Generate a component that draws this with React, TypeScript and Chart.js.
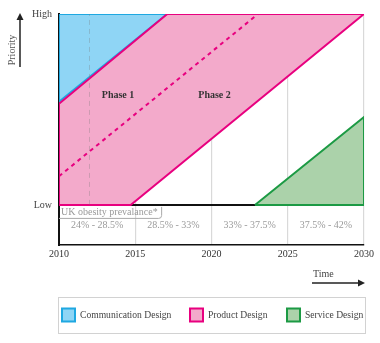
import React, { useEffect, useRef } from "react";
import { Chart, registerables } from "chart.js";

Chart.register(...registerables);

// ---- data ----
const xTicks = [2010, 2015, 2020, 2025, 2030];
const yTickLabels = ["Low", "High"]; // values 0 and 1

const commX = [2010, 2010, 2017.1, 2010];
const commY = [1, 0.54, 1, 1];

const prodX = [2010, 2017.1, 2030, 2014.7, 2010, 2010];
const prodY = [0.53, 1, 1, 0, 0, 0.53];

const prodDashX = [2010, 2023.05];
const prodDashY = [0.15, 1];

const servX = [2022.85, 2030, 2030, 2022.85];
const servY = [0, 0, 0.46, 0];

const lowLineX = [2010, 2030];
const lowLineY = [0, 0];

const markerX = [2012, 2012];
const markerY = [0, 1];

const rangeLabels = ["24% - 28.5%", "28.5% - 33%", "33% - 37.5%", "37.5% - 42%"];
const rangeCenters = [2012.5, 2017.5, 2022.5, 2027.5];
const rangeY = -0.105;

const phaseLabels = ["Phase 1", "Phase 2"];
const phaseX = [2013.87, 2020.2];
const phaseY = [0.576, 0.576];

const legendNames = ["Communication Design", "Product Design", "Service Design"];

const FONT = "'Liberation Serif', serif";
const blueFill = "#8fd5f5";
const blueLine = "#1fa8e1";
const pinkFill = "#f3aacb";
const pinkLine = "#e8007f";
const greenFill = "#abd2aa";
const greenLine = "#1c9a44";

const pts = (xs: number[], ys: number[]) => xs.map((x, i) => ({ x, y: ys[i] }));

const overlayPlugin = {
  id: "overlay",
  afterDraw(chart: any) {
    const ctx = chart.ctx as CanvasRenderingContext2D;
    const xs = chart.scales.x;
    const ys = chart.scales.y;
    const area = chart.chartArea;
    ctx.save();

    // phase labels
    ctx.font = `bold 10px ${FONT}`;
    ctx.fillStyle = "#333";
    ctx.textAlign = "center";
    ctx.textBaseline = "middle";
    phaseLabels.forEach((t, i) => {
      ctx.fillText(t, xs.getPixelForValue(phaseX[i]), ys.getPixelForValue(phaseY[i]));
    });

    // range labels
    ctx.font = `10px ${FONT}`;
    ctx.fillStyle = "#9a9a9a";
    rangeLabels.forEach((t, i) => {
      ctx.fillText(t, xs.getPixelForValue(rangeCenters[i]), ys.getPixelForValue(rangeY));
    });

    // UK obesity label with rounded box
    const lx = xs.getPixelForValue(2010);
    const ly = ys.getPixelForValue(0);
    ctx.textAlign = "left";
    ctx.font = `10px ${FONT}`;
    ctx.fillStyle = "#999";
    const label = "UK obesity prevalance*";
    ctx.fillText(label, lx + 2, ly + 7);
    const w = ctx.measureText(label).width + 6;
    ctx.strokeStyle = "#aaa";
    ctx.lineWidth = 1;
    ctx.beginPath();
    ctx.moveTo(lx, ly + 13.5);
    ctx.lineTo(lx + w - 3, ly + 13.5);
    ctx.quadraticCurveTo(lx + w, ly + 13.5, lx + w, ly + 10.5);
    ctx.lineTo(lx + w, ly + 2);
    ctx.stroke();

    // Priority arrow
    const ax = 20;
    ctx.strokeStyle = "#222";
    ctx.fillStyle = "#222";
    ctx.lineWidth = 1.5;
    ctx.beginPath();
    ctx.moveTo(ax, area.top + 53);
    ctx.lineTo(ax, area.top + 4);
    ctx.stroke();
    ctx.beginPath();
    ctx.moveTo(ax, area.top - 1);
    ctx.lineTo(ax - 3.5, area.top + 6);
    ctx.lineTo(ax + 3.5, area.top + 6);
    ctx.closePath();
    ctx.fill();
    ctx.save();
    ctx.translate(12, area.top + 36);
    ctx.rotate(-Math.PI / 2);
    ctx.font = `10px ${FONT}`;
    ctx.fillStyle = "#555";
    ctx.textAlign = "center";
    ctx.textBaseline = "middle";
    ctx.fillText("Priority", 0, 0);
    ctx.restore();

    // Time arrow
    const ty = area.bottom + 38;
    ctx.beginPath();
    ctx.moveTo(area.right - 52, ty);
    ctx.lineTo(area.right - 4, ty);
    ctx.stroke();
    ctx.beginPath();
    ctx.moveTo(area.right + 1, ty);
    ctx.lineTo(area.right - 6, ty - 3.5);
    ctx.lineTo(area.right - 6, ty + 3.5);
    ctx.closePath();
    ctx.fill();
    ctx.font = `10px ${FONT}`;
    ctx.fillStyle = "#444";
    ctx.textAlign = "left";
    ctx.textBaseline = "middle";
    ctx.fillText("Time", area.right - 51, ty - 9);

    // Legend
    const bx = area.left - 1;
    const by = area.bottom + 52.5;
    const bw = area.right - area.left + 2;
    const bh = 36;
    ctx.strokeStyle = "#d2d2d2";
    ctx.lineWidth = 1;
    ctx.strokeRect(bx + 0.5, by, bw, bh);
    const fills = [blueFill, pinkFill, greenFill];
    const lines = [blueLine, pinkLine, greenLine];
    const itemX = [area.left + 3, area.left + 131, area.left + 228];
    legendNames.forEach((n, i) => {
      const sx = itemX[i];
      const sy = by + 11;
      ctx.fillStyle = fills[i];
      ctx.fillRect(sx, sy, 13, 13);
      ctx.strokeStyle = lines[i];
      ctx.lineWidth = 2;
      ctx.strokeRect(sx, sy, 13, 13);
      ctx.fillStyle = "#444";
      ctx.font = `9.6px ${FONT}`;
      ctx.textAlign = "left";
      ctx.textBaseline = "middle";
      ctx.fillText(n, sx + 18, sy + 7);
    });

    ctx.restore();
  },
};

export default function App() {
  const ref = useRef<HTMLCanvasElement | null>(null);

  useEffect(() => {
    if (!ref.current) return;
    const chart = new Chart(ref.current, {
      type: "scatter",
      data: {
        datasets: [
          {
            label: "marker",
            data: pts(markerX, markerY),
            showLine: true,
            borderColor: "rgba(120,120,120,0.3)",
            borderWidth: 1,
            borderDash: [5, 4],
            pointRadius: 0,
            fill: false,
            order: 0,
          },
          {
            label: "prodDash",
            data: pts(prodDashX, prodDashY),
            showLine: true,
            borderColor: pinkLine,
            borderWidth: 2,
            borderDash: [4, 4],
            pointRadius: 0,
            fill: false,
            order: 1,
          },
          {
            label: "Communication Design",
            data: pts(commX, commY),
            showLine: true,
            borderColor: blueLine,
            backgroundColor: blueFill,
            borderWidth: 2,
            pointRadius: 0,
            fill: "shape",
            order: 3,
          },
          {
            label: "Product Design",
            data: pts(prodX, prodY),
            showLine: true,
            borderColor: pinkLine,
            backgroundColor: pinkFill,
            borderWidth: 2,
            pointRadius: 0,
            fill: "shape",
            order: 2,
          },
          {
            label: "Service Design",
            data: pts(servX, servY),
            showLine: true,
            borderColor: greenLine,
            backgroundColor: greenFill,
            borderWidth: 2,
            pointRadius: 0,
            fill: "shape",
            order: 4,
          },
          {
            label: "low",
            data: pts(lowLineX, lowLineY),
            showLine: true,
            borderColor: "#111",
            borderWidth: 2,
            pointRadius: 0,
            fill: false,
            order: 5,
          },
        ],
      },
      options: {
        animation: false,
        responsive: true,
        maintainAspectRatio: false,
        layout: { padding: { top: 14, right: 16, left: 0, bottom: 0 } },
        plugins: {
          legend: { display: false },
          tooltip: { enabled: false },
        },
        scales: {
          x: {
            type: "linear",
            min: 2010,
            max: 2030,
            z: 1,
            afterBuildTicks: (s: any) => {
              s.ticks = xTicks.map((v) => ({ value: v }));
            },
            afterFit: (s: any) => {
              s.height = 98;
            },
            ticks: {
              padding: 3,
              color: "#333",
              font: { family: FONT, size: 10 },
              callback: (v: any) => String(v),
              maxRotation: 0,
            },
            grid: {
              drawTicks: false,
              lineWidth: 1.2,
              color: (c: any) =>
                c.tick && c.tick.value === 2010 ? "rgba(0,0,0,0)" : "rgba(0,0,0,0.15)",
            },
            border: { display: true, color: "#111", width: 1.5 },
          },
          y: {
            type: "linear",
            min: -0.21,
            max: 1,
            afterBuildTicks: (s: any) => {
              s.ticks = [{ value: 0 }, { value: 1 }];
            },
            afterFit: (s: any) => {
              s.width = 59;
            },
            ticks: {
              padding: 7,
              color: "#444",
              font: { family: FONT, size: 10 },
              callback: (v: any) => (v === 1 ? yTickLabels[1] : v === 0 ? yTickLabels[0] : ""),
            },
            grid: { display: false, drawTicks: false },
            border: { display: true, color: "#111", width: 2 },
          },
        },
      },
      plugins: [overlayPlugin],
    } as any);
    return () => chart.destroy();
  }, []);

  return (
    <div style={{ position: "absolute", left: 0, top: 0, width: 380, height: 343, background: "#fff" }}>
      <canvas ref={ref} />
    </div>
  );
}
